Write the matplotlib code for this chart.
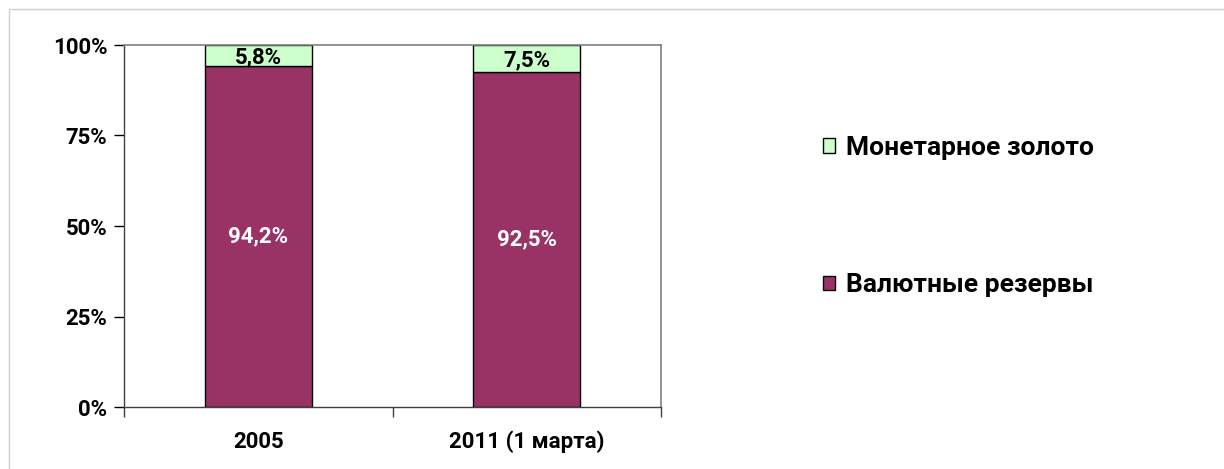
import matplotlib.pyplot as plt
from matplotlib.patches import Rectangle

# === DATA ===
categories = ["2005", "2011 (1 марта)"]
currency_reserves = [94.2, 92.5]   # Валютные резервы
monetary_gold = [5.8, 7.5]         # Монетарное золото
yticks = [0, 25, 50, 75, 100]

plt.rcParams["font.family"] = ["Roboto", "DejaVu Sans"]
plt.rcParams["font.weight"] = "bold"

fig = plt.figure(figsize=(12.24, 4.69), dpi=100)
ax = fig.add_axes([124 / 1224, 1 - 407 / 469, (661 - 124) / 1224, (407 - 45) / 469])

# light gray frame around the chart
fig.patches.append(Rectangle((9 / 1224, -0.1), 1.2, 1.1 - 9 / 469,
                             transform=fig.transFigure, fill=False,
                             edgecolor="#d0d0d0", linewidth=1))

x = [0.5, 1.5]
maroon = "#993366"
green = "#ccffcc"
b1 = ax.bar(x, currency_reserves, width=0.4, color=maroon, edgecolor="black",
            linewidth=1, label="Валютные резервы")
b2 = ax.bar(x, monetary_gold, width=0.4, bottom=currency_reserves, color=green,
            edgecolor="black", linewidth=1, label="Монетарное золото")

for xi, v, g in zip(x, currency_reserves, monetary_gold):
    ax.text(xi, v / 2, f"{v:.1f}%".replace(".", ","), ha="center", va="center",
            color="white", fontsize=16, fontweight="bold")
    ax.text(xi, v + g / 2 - 0.5, f"{g:.1f}%".replace(".", ","), ha="center", va="center",
            color="black", fontsize=16, fontweight="bold")

ax.set_xlim(0, 2)
ax.set_ylim(0, 100)
ax.set_yticks(yticks)
ax.set_yticklabels([f"{t}%" for t in yticks], fontsize=16, fontweight="bold")
ax.set_xticks([0.5, 1.5])
ax.set_xticklabels(categories, fontsize=16, fontweight="bold")
ax.tick_params(axis="x", length=0, pad=17)
ax.tick_params(axis="y", length=7, width=1, direction="out", pad=5)
# category separators on the x-axis
ax.set_xticks([0, 1, 2], minor=True)
ax.tick_params(axis="x", which="minor", length=7, width=1, direction="out", color="#404040")

for s in ["left", "bottom"]:
    ax.spines[s].set_color("#404040")
    ax.spines[s].set_linewidth(1)
for s in ["top", "right"]:
    ax.spines[s].set_color("#808080")
    ax.spines[s].set_linewidth(1.2)

ax.legend(handles=[b2, b1], loc="center left", bbox_to_anchor=(799 / 1224, 1 - 216.5 / 469),
          bbox_transform=fig.transFigure, frameon=False,
          labelspacing=4.3, handlelength=0.48, handleheight=0.48, handletextpad=0.4,
          prop={"weight": "bold", "size": 19})

fig.savefig("out.png", dpi=100)
